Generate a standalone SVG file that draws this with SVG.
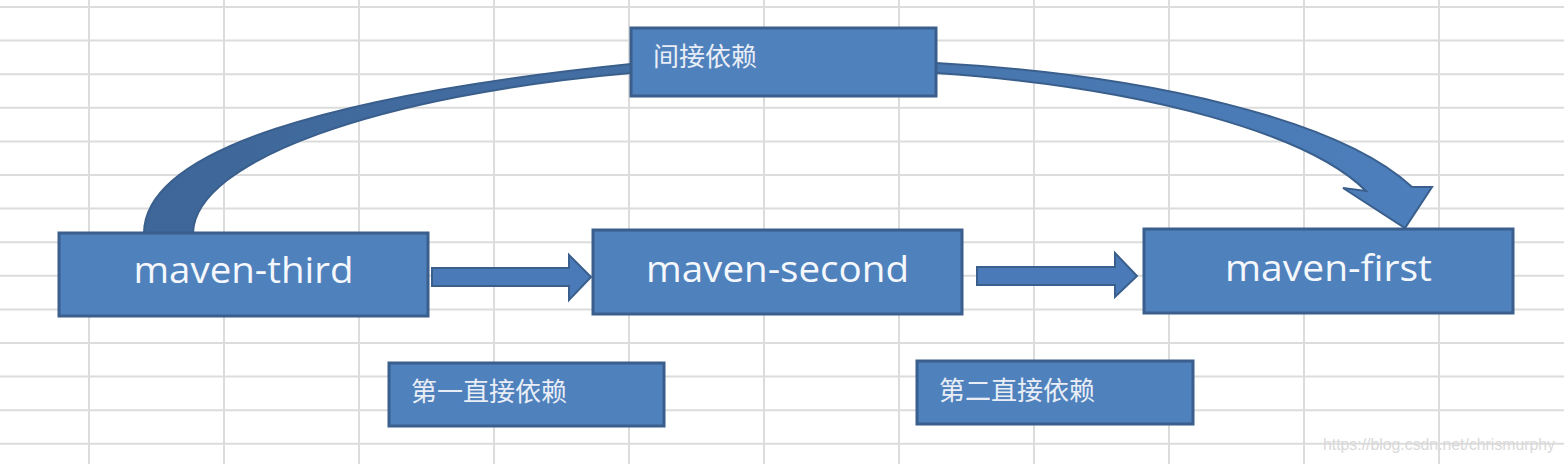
<svg xmlns="http://www.w3.org/2000/svg" width="1564" height="464" viewBox="0 0 1564 464">
<style>
.grid line{stroke:#dcdcdc;stroke-width:2}
.box{fill:#4f81bd;stroke:#3a5f8c;stroke-width:3}
.main{font-family:"Open Sans","Liberation Sans",sans-serif;font-size:37px;fill:#f4f7fb;text-anchor:middle}
.cjk{font-family:"Noto Sans CJK SC","Noto Sans",sans-serif;font-size:26px;fill:#e9eef6}
.arrow{fill:#4a7bb8;stroke:#3a5f8c;stroke-width:2;stroke-linejoin:miter}
.wm{font-family:"Liberation Sans",Arial,sans-serif;font-size:16px;fill:#d9d9d9}
</style>
<defs>
<linearGradient id="curveGrad" x1="140" y1="0" x2="1432" y2="0" gradientUnits="userSpaceOnUse">
<stop offset="0" stop-color="#3e6698"/>
<stop offset="0.5" stop-color="#4672a8"/>
<stop offset="1" stop-color="#4d7fbc"/>
</linearGradient>
</defs>
<rect width="1564" height="464" fill="#ffffff"/>
<g class="grid" id="grid">
<line x1="0" y1="7" x2="1564" y2="7"/>
<line x1="0" y1="40.6" x2="1564" y2="40.6"/>
<line x1="0" y1="74.2" x2="1564" y2="74.2"/>
<line x1="0" y1="107.8" x2="1564" y2="107.8"/>
<line x1="0" y1="141.4" x2="1564" y2="141.4"/>
<line x1="0" y1="175" x2="1564" y2="175"/>
<line x1="0" y1="208.6" x2="1564" y2="208.6"/>
<line x1="0" y1="242.2" x2="1564" y2="242.2"/>
<line x1="0" y1="275.8" x2="1564" y2="275.8"/>
<line x1="0" y1="309.4" x2="1564" y2="309.4"/>
<line x1="0" y1="343" x2="1564" y2="343"/>
<line x1="0" y1="376.6" x2="1564" y2="376.6"/>
<line x1="0" y1="410.2" x2="1564" y2="410.2"/>
<line x1="0" y1="443.8" x2="1564" y2="443.8"/>
<line x1="89" y1="0" x2="89" y2="464"/>
<line x1="224" y1="0" x2="224" y2="464"/>
<line x1="359" y1="0" x2="359" y2="464"/>
<line x1="494" y1="0" x2="494" y2="464"/>
<line x1="629" y1="0" x2="629" y2="464"/>
<line x1="764" y1="0" x2="764" y2="464"/>
<line x1="899" y1="0" x2="899" y2="464"/>
<line x1="1034" y1="0" x2="1034" y2="464"/>
<line x1="1169" y1="0" x2="1169" y2="464"/>
<line x1="1304" y1="0" x2="1304" y2="464"/>
<line x1="1439" y1="0" x2="1439" y2="464"/>
</g>
<g id="connectors">
<path id="curve-indirect" fill="url(#curveGrad)" stroke="#3a5f8c" stroke-width="2" stroke-linejoin="miter" d="M144,233 C145,150 330,95 631,64 L936,63 C1150,75 1340,120 1412,187 L1432,187 L1405,228 L1343,188 L1366,191 C1310,135 1150,88 936,73 L631,73 C380,95 195,160 193,233 Z"/>
<path id="arrow-first" class="arrow" d="M432,268 L569,268 L569,255 L591,277 L569,300 L569,286 L432,286 Z"/>
<path id="arrow-second" class="arrow" d="M977,267 L1115,267 L1115,253 L1137,276 L1115,297 L1115,285 L977,285 Z"/>
</g>
<g id="node-indirect">
<rect class="box" x="631" y="28" width="305" height="68"/>
<text class="cjk" x="653" y="66">间接依赖</text>
</g>
<g id="node-third">
<rect class="box" x="59" y="233" width="369" height="83"/>
<text class="main" x="243.5" y="283" textLength="220" lengthAdjust="spacingAndGlyphs">maven-third</text>
</g>
<g id="node-second">
<rect class="box" x="593" y="230" width="369" height="84"/>
<text class="main" x="777.5" y="282" textLength="263" lengthAdjust="spacingAndGlyphs">maven-second</text>
</g>
<g id="node-first">
<rect class="box" x="1144" y="229" width="369" height="84"/>
<text class="main" x="1328.5" y="281" textLength="207" lengthAdjust="spacingAndGlyphs">maven-first</text>
</g>
<g id="label-first-direct">
<rect class="box" x="389" y="363" width="275" height="63"/>
<text class="cjk" x="411" y="401">第一直接依赖</text>
</g>
<g id="label-second-direct">
<rect class="box" x="917" y="361" width="276" height="63"/>
<text class="cjk" x="939" y="400">第二直接依赖</text>
</g>
<text class="wm" x="1323" y="450" textLength="232" lengthAdjust="spacingAndGlyphs">https://blog.csdn.net/chrismurphy</text>
</svg>
